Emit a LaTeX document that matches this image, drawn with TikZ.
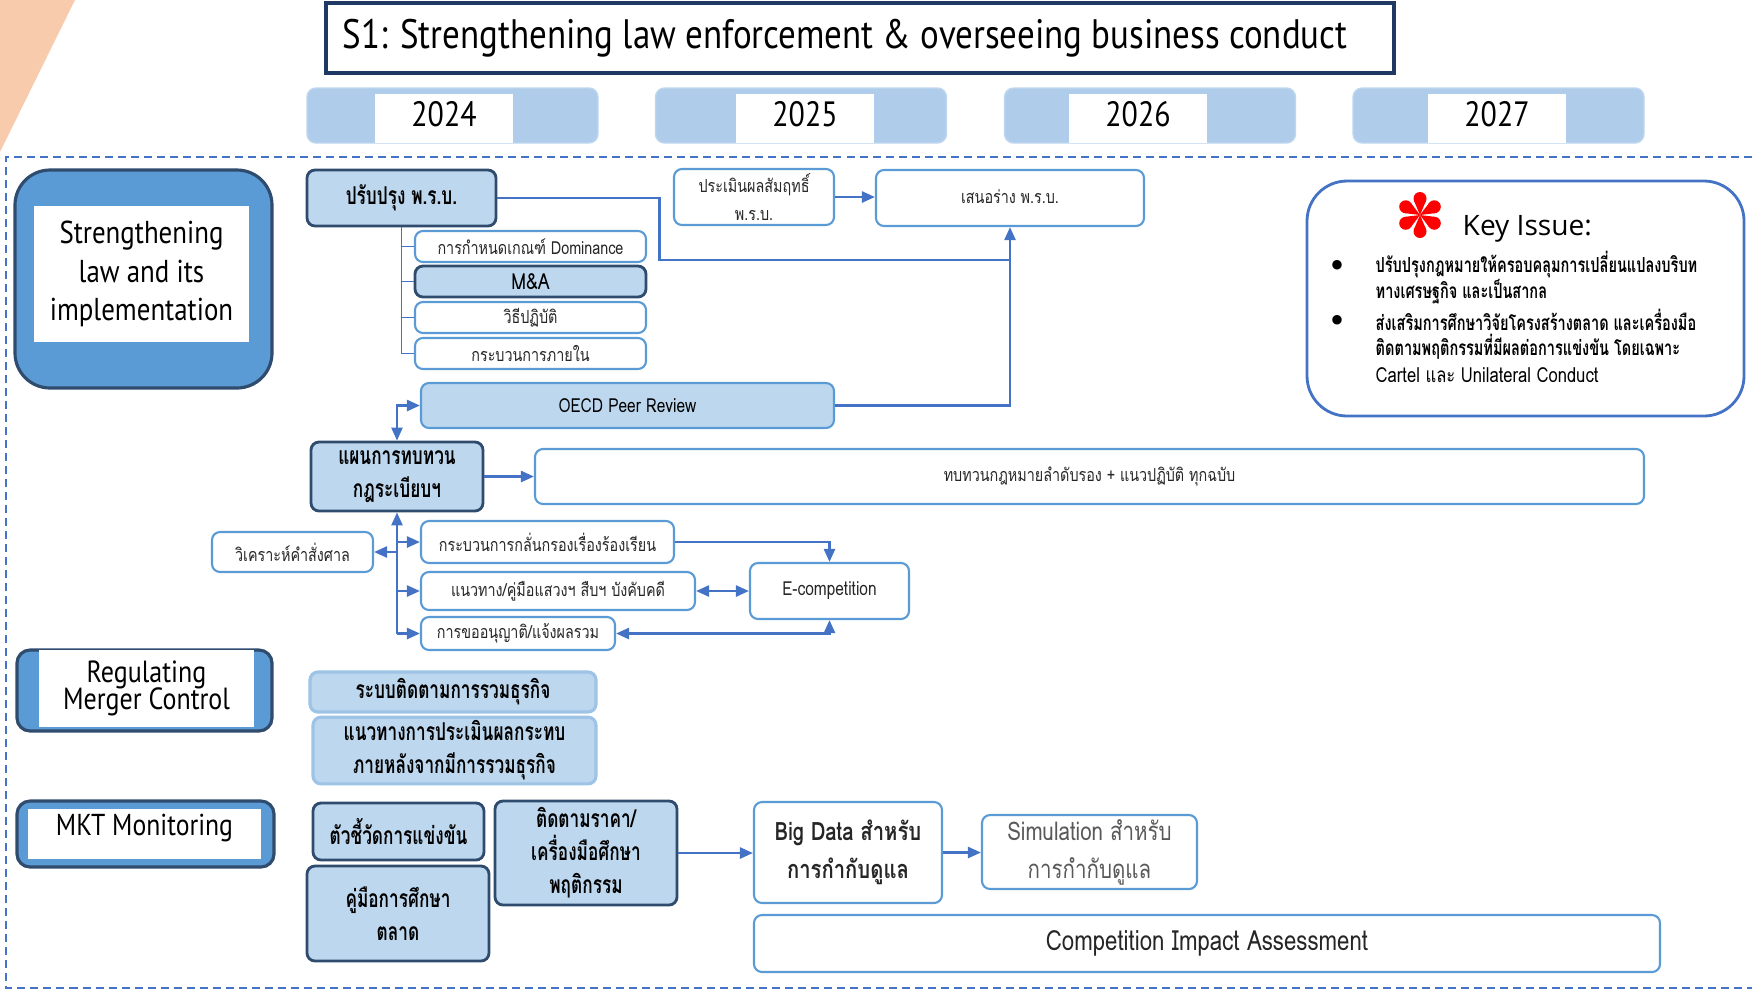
\documentclass[tikz,border=0pt]{standalone}
\usepackage{fontspec}
\usetikzlibrary{arrows.meta,calc}
\newfontfamily\thaif[Script=Thai,FakeStretch=0.8]{Loma}
\newfontfamily\thaicond[Script=Thai,FakeStretch=0.7]{Loma}
\newfontfamily\narrowf[FakeStretch=0.85]{PT Sans}
\newfontfamily\uif{Open Sans}
\definecolor{catblue}{HTML}{5B9BD5}
\definecolor{yearblue}{HTML}{AFCDEA}
\definecolor{paleblue}{HTML}{BDD7EE}
\definecolor{edgeblue}{HTML}{5B9BD5}
\definecolor{softedge}{HTML}{9DC3E6}
\definecolor{darkedge}{HTML}{2F4B6E}
\definecolor{linkblue}{HTML}{4472C4}
\definecolor{navy}{HTML}{1F3864}
\definecolor{peach}{HTML}{F8CBAD}
\definecolor{keyred}{HTML}{FF0000}
\tikzset{
  wh/.style 2 args={minimum width=#1*0.01cm, minimum height=#2*0.01cm},
  box/.style={rectangle, rounded corners=0.8mm, inner sep=1pt, align=center, line width=0.6pt},
  plainbox/.style={box, draw=edgeblue, fill=white, text=black!85},
  heavybox/.style={box, draw=darkedge, fill=paleblue, line width=0.8pt},
  lightbox/.style={box, draw=edgeblue, fill=paleblue},
  softbox/.style={box, draw=softedge, fill=paleblue, line width=0.9pt},
  txtsmall/.style={font=\thaif\fontsize{5.1}{7.8}\selectfont},
  txtstrong/.style={font=\thaicond\bfseries\fontsize{7}{9.4}\selectfont},
  txtlatin/.style={font=\thaif\fontsize{5.5}{7}\selectfont},
  keyline/.style={anchor=west, inner sep=0pt, font=\thaicond\bfseries\fontsize{5.9}{8}\selectfont},
  link/.style={draw=linkblue, line width=0.7pt},
  arrowed/.style={link, -{Triangle[length=1.3mm,width=1.1mm]}},
  twoarrow/.style={link, {Triangle[length=1.3mm,width=1.1mm]}-{Triangle[length=1.3mm,width=1.1mm]}},
  treeline/.style={draw=linkblue, line width=0.45pt},
  yearbar/.style={rectangle, rounded corners=0.9mm, fill=yearblue, draw=yearblue!80!white, line width=0.4pt},
  yearcell/.style={rectangle, fill=white, inner sep=0pt, font=\narrowf\fontsize{10}{12}\selectfont},
  catouter/.style={rectangle, fill=catblue, draw=darkedge, line width=0.9pt},
  catinner/.style={rectangle, fill=white, inner sep=0pt, align=center},
  frameline/.style={draw=linkblue, line width=0.6pt, dash pattern=on 0.8mm off 0.5mm}
}
\begin{document}
\begin{tikzpicture}[x=0.01cm, y=-0.01cm]
\useasboundingbox (0,0) rectangle (1752,990);

% corner accent
\fill[peach] (0,0) -- (75,0) -- (0,152) -- cycle;

% dashed frame of the plan area
\draw[frameline] (1752,157) -- (6,157) -- (6,988) -- (1752,988);

% heading
\node[rectangle, draw=navy, line width=1pt, fill=white, wh={1068}{70}] (title) at (860,38)
  {\narrowf\fontsize{11.7}{13}\selectfont S1: Strengthening law enforcement \& overseeing business conduct\kern 0.3cm};

% year bands
\node[yearbar, wh={291}{55}] (bar24) at (452.5,115.5) {};
\node[yearcell, wh={138}{49}] (y24) at (444,118.5) {\raisebox{1mm}{2024}};
\node[yearbar, wh={291}{55}] (bar25) at (801,115.5) {};
\node[yearcell, wh={138}{49}] (y25) at (805,118.5) {\raisebox{1mm}{2025}};
\node[yearbar, wh={291}{55}] (bar26) at (1150,115.5) {};
\node[yearcell, wh={138}{49}] (y26) at (1138,118.5) {\raisebox{1mm}{2026}};
\node[yearbar, wh={291}{55}] (bar27) at (1498.5,115.5) {};
\node[yearcell, wh={138}{49}] (y27) at (1497,118.5) {\raisebox{1mm}{2027}};

% category labels
\node[catouter, rounded corners=3.5mm, wh={257}{218}] (cat1) at (143.5,279) {};
\node[catinner, wh={215}{136}, font=\narrowf\fontsize{9}{10.9}\selectfont] (cat1t) at (141.5,274)
  {Strengthening\\law and its\\implementation};
\node[catouter, rounded corners=1.3mm, wh={255}{81}] (cat2) at (144.5,690.5) {};
\node[catinner, wh={215}{77}, font={\narrowf\fontsize{8.7}{7.6}\selectfont\lineskiplimit=-5pt}] (cat2t) at (146.5,688.5)
  {Regulating\\Merger Control};
\node[catouter, rounded corners=1.3mm, wh={257}{66}] (cat3) at (145.5,834) {};
\node[catinner, wh={233}{50}] (cat3b) at (144.5,834) {};
\node[inner sep=0pt, font=\narrowf\fontsize{8.6}{11}\selectfont] (cat3t) at (144.5,828) {MKT Monitoring};

% law amendment track
\node[heavybox, wh={189}{56}, txtstrong] (prb) at (401.5,198) {ปรับปรุง พ.ร.บ.};
\node[plainbox, wh={231}{31}, txtsmall] (dom) at (530.5,246.5) {การกำหนดเกณฑ์ Dominance};
\node[heavybox, wh={231}{31}, font=\thaif\fontsize{6.3}{8}\selectfont] (ma) at (530.5,281.5) {M\&A};
\node[plainbox, wh={231}{31}, txtsmall] (wit) at (530.5,317.5) {วิธีปฏิบัติ};
\node[plainbox, wh={231}{31}, txtsmall] (krb) at (530.5,353.5) {กระบวนการภายใน};
\node[lightbox, wh={413}{45}, txtlatin] (oecd) at (627.5,405.5) {OECD Peer Review};
\node[plainbox, wh={160}{56}, font=\thaif\fontsize{5.1}{7.8}\selectfont] (eval) at (754,197) {ประเมินผลสัมฤทธิ์\\พ.ร.บ.};
\node[plainbox, wh={268}{56}, txtsmall] (draft) at (1010,198) {\raisebox{0.3mm}{เสนอร่าง พ.ร.บ.}};

% regulation review track
\node[heavybox, wh={172}{69}, txtstrong] (plan) at (397,476.5) {แผนการทบทวน\\กฎระเบียบฯ};
\node[plainbox, wh={1109}{55}, txtsmall] (review) at (1089.5,476.5) {ทบทวนกฎหมายลำดับรอง + แนวปฏิบัติ ทุกฉบับ};
\node[plainbox, wh={161}{40}, txtsmall] (court) at (292.5,552) {วิเคราะห์คำสั่งศาล};
\node[plainbox, wh={253}{42}, txtsmall] (screen) at (547.5,542) {กระบวนการกลั่นกรองเรื่องร้องเรียน};
\node[plainbox, wh={274}{38}, txtsmall] (guide) at (558,591) {แนวทาง/คู่มือแสวงฯ สืบฯ บังคับคดี};
\node[plainbox, wh={194}{33}, txtsmall] (permit) at (518,633.5) {การขออนุญาติ/แจ้งผลรวม};
\node[plainbox, wh={159}{56}, txtlatin] (ecomp) at (829.5,591) {E-competition};

% merger control
\node[softbox, wh={286}{40}, txtstrong] (merge1) at (453,692) {ระบบติดตามการรวมธุรกิจ};
\node[softbox, wh={283}{65}, txtstrong] (merge2) at (454.5,750.5) {แนวทางการประเมินผลกระทบ\\ภายหลังจากมีการรวมธุรกิจ};

% market monitoring
\node[heavybox, wh={171}{57}, txtstrong] (ind) at (398.5,831.5) {ตัวชี้วัดการแข่งขัน};
\node[heavybox, wh={182}{95}, txtstrong] (manual) at (398,913.5) {คู่มือการศึกษา\\ตลาด};
\node[heavybox, wh={182}{104}, txtstrong] (track) at (586,853) {ติดตามราคา/\\เครื่องมือศึกษา\\พฤติกรรม};
\node[plainbox, wh={188}{101}, font=\thaif\bfseries\fontsize{7.2}{10.8}\selectfont] (bigdata) at (848,852.5) {Big Data สำหรับ\\การกำกับดูแล};
\node[plainbox, wh={215}{74}, font=\thaif\fontsize{7.3}{10.8}\selectfont, text=black!65] (sim) at (1089.5,852) {Simulation สำหรับ\\การกำกับดูแล};
\node[plainbox, wh={906}{57}, font=\thaif\fontsize{7.9}{9}\selectfont] (cia) at (1207,943.5) {Competition Impact Assessment};

% key issue panel
\node[rectangle, rounded corners=4mm, draw=linkblue, line width=0.8pt, fill=white, wh={437}{235}] (key) at (1525.5,298.5) {};
\coordinate (ast) at (1420,215);
\foreach \a in {30,90,150,210,270,330}{
  \fill[keyred] ($(ast)+(\a:16.5)$) circle[radius=6.5];
  \fill[keyred] (ast) -- ($(ast)+(\a+23:15.2)$) -- ($(ast)+(\a-23:15.2)$) -- cycle;
}
\node[anchor=west, inner sep=0pt, font=\uif\fontsize{8}{10}\selectfont] (keyhead) at (1462,229) {Key Issue:};
\node[inner sep=0pt, font=\fontsize{6}{7}\selectfont] (bul1) at (1337,265) {$\bullet$};
\node[inner sep=0pt, font=\fontsize{6}{7}\selectfont] (bul2) at (1337,320) {$\bullet$};
\node[keyline] (kl1) at (1375,265) {ปรับปรุงกฎหมายให้ครอบคลุมการเปลี่ยนแปลงบริบท};
\node[keyline] (kl2) at (1375,292) {ทางเศรษฐกิจ และเป็นสากล};
\node[keyline] (kl3) at (1375,320) {ส่งเสริมการศึกษาวิจัยโครงสร้างตลาด และเครื่องมือ};
\node[keyline] (kl4) at (1375,347) {ติดตามพฤติกรรมที่มีผลต่อการแข่งขัน โดยเฉพาะ};
\node[anchor=west, inner sep=0pt, font=\thaif\fontsize{5.9}{8}\selectfont] (kl5) at (1375,375) {Cartel และ Unilateral Conduct};

% connectors: amendment
\coordinate (lvl) at (0,260);
\draw[treeline] (prb.south) -- (prb.south |- krb.west);
\foreach \n in {dom,ma,wit,krb}{\draw[treeline] (prb.south |- \n.west) -- (\n.west);}
\draw[link] (prb.east) -- ++(162,0) |- (draft.south |- lvl);
\draw[arrowed] (oecd.east) -| (draft.south);
\draw[arrowed] (eval.east) -- (eval.east -| draft.west);
\draw[twoarrow] (oecd.west) -| (plan.north);

% connectors: review
\draw[arrowed] (plan.east) -- (review.west);
\draw[arrowed] (plan.south |- permit.west) -- (plan.south);
\draw[arrowed] (plan.south |- screen.west) -- (screen.west);
\draw[arrowed] (plan.south |- guide.west) -- (guide.west);
\draw[arrowed] (plan.south |- permit.west) -- (permit.west);
\draw[arrowed] (plan.south |- court.east) -- (court.east);
\draw[arrowed] (screen.east) -| (ecomp.north);
\draw[twoarrow] (guide.east) -- (guide.east -| ecomp.west);
\draw[twoarrow] (permit.east) -| (ecomp.south);

% connectors: monitoring
\draw[arrowed] (track.east) -- (track.east -| bigdata.west);
\draw[arrowed] (bigdata.east) -- (bigdata.east -| sim.west);
\end{tikzpicture}
\end{document}
